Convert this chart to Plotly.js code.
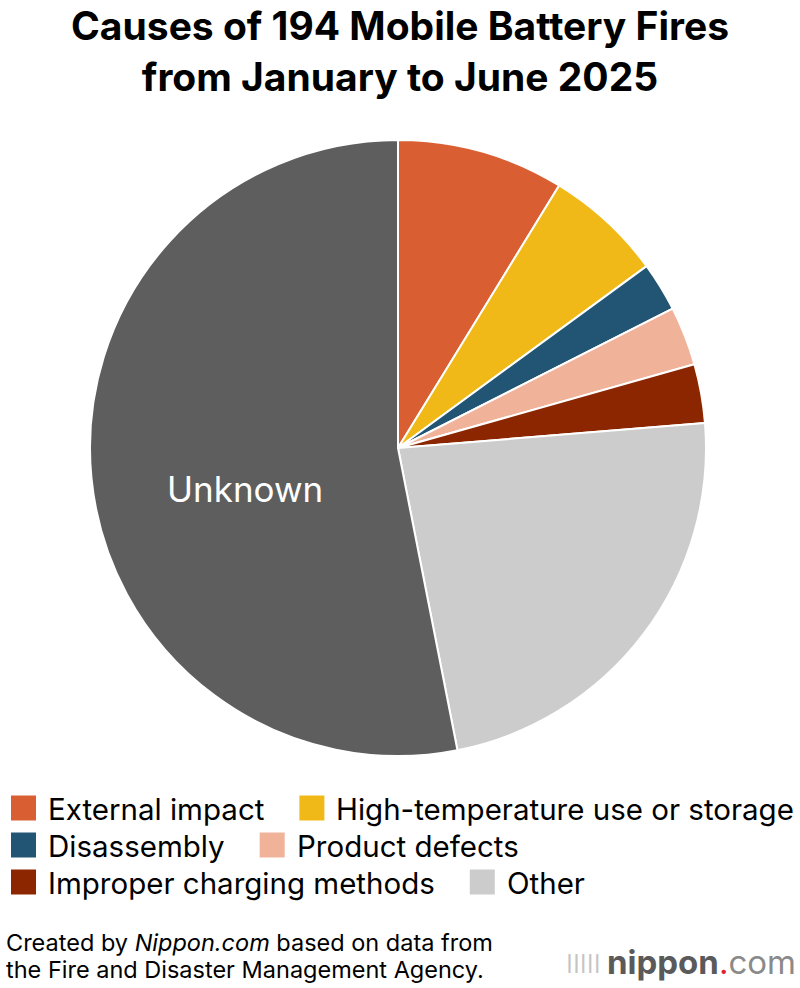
<!DOCTYPE html>
<html>
<head>
<meta charset="utf-8">
<script src="https://cdn.plot.ly/plotly-3.0.1.min.js"></script>
<style>html,body{margin:0;padding:0;background:#fff;}#chart{width:800px;height:988px;}</style>
</head>
<body>
<div id="chart"></div>
<script>
// Data
const causes = ["External impact", "High-temperature use or storage", "Disassembly", "Product defects", "Improper charging methods", "Other", "Unknown"];
const counts = [17, 12, 5, 6, 6, 45, 103];
const colors = ["#D95F32", "#F1B917", "#225574", "#F1B29A", "#8B2600", "#CCCCCC", "#5E5E5E"];
const legendCauses = causes.slice(0, 6);
const labelledCause = causes[6];

const W = 800, H = 988;
const FONT = "Inter, Liberation Sans, Arial, sans-serif";
const LEG_SIZE = 29.5;

const trace = {
  type: "pie",
  labels: causes,
  values: counts,
  textinfo: "none",
  sort: false,
  direction: "clockwise",
  rotation: 0,
  marker: {colors: colors, line: {color: "#ffffff", width: 2}},
  domain: {x: [90 / W, 706 / W], y: [1 - 756 / H, 1 - 140 / H]},
  showlegend: false,
  hoverinfo: "label+value"
};

// text width measurement for legend flow layout
const ctx = document.createElement("canvas").getContext("2d");
ctx.font = LEG_SIZE + "px " + FONT;
const tw = s => ctx.measureText(s).width;

// Custom legend built from the label/colour arrays (2 items per row)
const shapes = [];
const annotations = [];
const rowY0 = 808, rowStep = 37, sw = 25, textGap = 10, itemGap = 37;
let cursor = 11;
legendCauses.forEach((name, i) => {
  const col = i % 2, row = Math.floor(i / 2);
  if (col === 0) cursor = 11;
  const cy = rowY0 + row * rowStep;
  shapes.push({
    type: "rect", xref: "paper", yref: "paper",
    x0: cursor / W, x1: (cursor + sw) / W,
    y0: 1 - (cy + sw / 2) / H, y1: 1 - (cy - sw / 2) / H,
    fillcolor: colors[i], line: {width: 0}
  });
  annotations.push({
    xref: "paper", yref: "paper", x: (cursor + sw + textGap) / W, y: 1 - (cy + 1) / H,
    xanchor: "left", yanchor: "middle", showarrow: false,
    text: name, font: {family: FONT, size: LEG_SIZE, color: "#000"}
  });
  cursor += sw + textGap + tw(name) + itemGap;
});

// In-slice label
annotations.push({
  xref: "paper", yref: "paper", x: 245 / W, y: 1 - 489 / H,
  xanchor: "center", yanchor: "middle", showarrow: false,
  text: labelledCause, font: {family: FONT, size: 35, color: "#fff"}
});

// Source note
annotations.push({
  xref: "paper", yref: "paper", x: 4 / W, y: 1 - 942 / H,
  xanchor: "left", yanchor: "middle", showarrow: false, align: "left",
  text: "Created by <i>Nippon.com</i> based on data from",
  font: {family: FONT, size: 23.5, color: "#000"}
});
annotations.push({
  xref: "paper", yref: "paper", x: 4 / W, y: 1 - 969 / H,
  xanchor: "left", yanchor: "middle", showarrow: false, align: "left",
  text: "the Fire and Disaster Management Agency.",
  font: {family: FONT, size: 23.5, color: "#000"}
});
// Logo
annotations.push({
  xref: "paper", yref: "paper", x: 798 / W, y: 1 - 962 / H,
  xanchor: "right", yanchor: "middle", showarrow: false,
  text: "<b>nippon</b><span style='color:#E5202E'>.</span><span style='color:#8a8a8a'>com</span>",
  font: {family: FONT, size: 33, color: "#5a5a5a"}
});
annotations.push({
  xref: "paper", yref: "paper", x: 603 / W, y: 1 - 963 / H,
  xanchor: "right", yanchor: "middle", showarrow: false,
  text: "ǀǀǀǀǀ",
  font: {family: FONT, size: 26, color: "#c4c4c4"}
});

const layout = {
  width: W, height: H,
  margin: {l: 0, r: 0, t: 0, b: 0},
  paper_bgcolor: "#fff",
  title: {
    text: "<b>Causes of 194 Mobile Battery Fires<br>from January to June 2025</b>",
    x: 0.5, xanchor: "center", y: 1 - 40 / H, yanchor: "middle",
    font: {family: FONT, size: 39, color: "#000"}
  },
  shapes: shapes,
  annotations: annotations
};

Plotly.newPlot("chart", [trace], layout, {displayModeBar: false, staticPlot: true});
</script>
</body>
</html>
